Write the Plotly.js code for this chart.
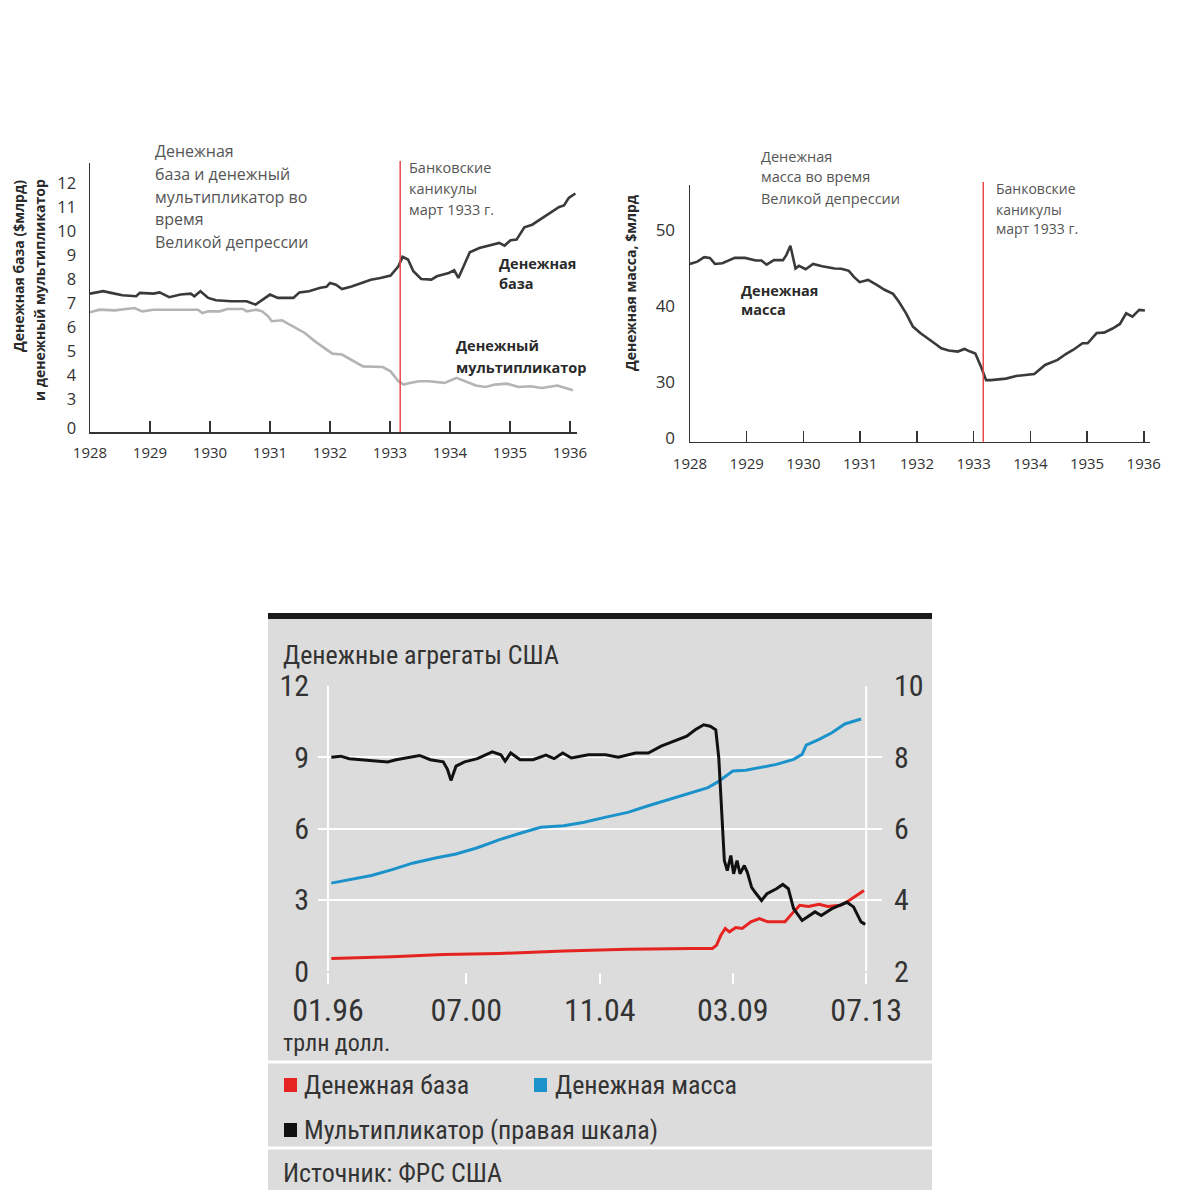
<!DOCTYPE html>
<html>
<head>
<meta charset="utf-8">
<script src="https://cdn.plot.ly/plotly-3.0.1.min.js"></script>
<style>
  html, body { margin: 0; padding: 0; background: #fff; }
  #chart { width: 1200px; height: 1200px; }
</style>
</head>
<body>
<div id="chart"></div>
<script>
// ---- chart 1: money base and money multiplier, 1928-1936
const baseYears = [1928.0,1928.22,1928.35,1928.54,1928.77,1928.83,1929.06,1929.16,1929.32,1929.51,1929.68,1929.74,1929.84,1929.97,
  1930.10,1930.35,1930.61,1930.76,1931.0,1931.13,1931.39,1931.49,1931.65,1931.84,1931.94,1932.0,1932.10,1932.20,1932.36,1932.55,
  1932.68,1932.84,1933.01,1933.14,1933.21,1933.30,1933.39,1933.52,1933.69,1933.78,1933.98,1934.07,1934.14,1934.24,1934.33,1934.49,
  1934.69,1934.82,1934.91,1935.01,1935.11,1935.24,1935.37,1935.50,1935.66,1935.82,1935.90,1935.98,1936.09];
const baseValues = [7.39,7.49,7.42,7.32,7.28,7.42,7.39,7.44,7.24,7.35,7.39,7.28,7.49,7.21,
  7.11,7.07,7.07,6.93,7.35,7.21,7.21,7.44,7.49,7.63,7.67,7.83,7.76,7.58,7.69,7.86,
  7.97,8.04,8.14,8.53,8.92,8.81,8.32,8.0,7.97,8.11,8.25,8.36,8.04,8.6,9.11,9.29,
  9.43,9.5,9.39,9.61,9.64,10.15,10.26,10.47,10.75,11.0,11.06,11.38,11.56];

const multYears = [1928.0,1928.16,1928.41,1928.74,1928.87,1929.06,1929.45,1929.80,1929.87,1929.97,
  1930.16,1930.29,1930.55,1930.61,1930.77,1930.87,1930.97,1931.03,1931.20,1931.39,1931.58,1931.75,1931.91,
  1932.04,1932.20,1932.36,1932.55,1932.88,1933.01,1933.14,1933.23,1933.33,1933.49,1933.65,1933.91,
  1934.11,1934.24,1934.43,1934.59,1934.75,1934.95,1935.14,1935.34,1935.53,1935.79,1935.92,1936.05];
const multValues = [6.61,6.72,6.69,6.79,6.65,6.72,6.72,6.72,6.58,6.65,
  6.65,6.75,6.75,6.65,6.72,6.65,6.44,6.24,6.28,6.03,5.75,5.40,5.13,
  4.89,4.85,4.61,4.36,4.33,4.15,3.74,3.60,3.67,3.74,3.74,3.67,
  3.88,3.74,3.56,3.50,3.60,3.64,3.50,3.53,3.46,3.56,3.46,3.36];

// ---- chart 2: money supply, 1928-1936
const massYears = [1928.0,1928.13,1928.25,1928.35,1928.44,1928.57,1928.79,1928.97,
  1929.16,1929.26,1929.35,1929.48,1929.64,1929.70,1929.77,1929.86,1929.92,
  1930.04,1930.17,1930.33,1930.55,1930.67,1930.80,1930.89,1930.99,
  1931.14,1931.30,1931.43,1931.58,1931.68,1931.81,1931.93,
  1932.06,1932.18,1932.31,1932.43,1932.56,1932.72,1932.84,1932.94,
  1933.03,1933.13,1933.22,1933.31,1933.57,1933.75,
  1934.07,1934.26,1934.48,1934.64,1934.76,1934.92,
  1935.01,1935.17,1935.30,1935.45,1935.58,1935.69,1935.80,1935.92,1936.02];
const massValues = [45.5,45.8,46.4,46.3,45.5,45.6,46.3,46.3,
  45.96,45.96,45.4,46.0,46.0,46.7,47.9,44.9,45.25,
  44.8,45.5,45.2,44.9,44.86,44.6,43.8,43.1,
  43.4,42.7,42.1,41.56,40.55,39.0,37.25,
  36.4,35.7,35.05,34.4,34.1,33.96,34.3,33.96,
  33.7,31.98,30.2,30.2,30.4,30.75,
  31.0,32.2,32.86,33.7,34.2,35.05,
  35.05,36.4,36.46,37.0,37.6,39.0,38.57,39.45,39.36];

const yearTicks = [1928,1929,1930,1931,1932,1933,1934,1935,1936];
const bankHoliday = 1933.17;

// ---- chart 3: US monetary aggregates 1996-2013
const baseDates = ['1996-02-10','1998-02-01','1999-10-01','2001-08-01','2003-09-01','2005-10-01','2007-11-01','2008-07-01',
  '2008-08-20','2008-10-10','2008-12-01','2009-01-20','2009-04-05','2009-06-20','2009-10-01','2010-01-10','2010-04-20',
  '2010-11-10','2011-02-20','2011-05-05','2011-08-15','2011-12-20','2012-04-01','2012-09-01','2012-12-10','2013-04-15','2013-06-05'];
const baseTrln = [0.53,0.60,0.70,0.74,0.84,0.92,0.95,0.95,
  1.09,1.51,1.79,1.65,1.83,1.79,2.07,2.21,2.07,
  2.07,2.49,2.77,2.72,2.81,2.72,2.77,2.97,3.28,3.39];

const massDates = ['1996-02-10','1996-09-01','1997-06-01','1998-02-01','1998-10-01','1999-07-01','2000-03-01','2000-11-01',
  '2001-08-01','2002-04-01','2002-12-01','2003-09-01','2004-05-01','2005-01-01','2005-10-01','2006-06-01','2007-02-01',
  '2007-11-01','2008-05-10','2008-08-20','2008-12-01','2009-03-01','2009-08-01','2010-01-01','2010-08-01','2011-02-20',
  '2011-06-01','2011-07-20','2011-12-20','2012-05-20','2012-10-20','2013-05-01'];
const massTrln = [3.70,3.84,4.02,4.27,4.54,4.76,4.93,5.18,
  5.53,5.80,6.05,6.12,6.26,6.47,6.68,6.96,7.23,
  7.51,7.72,7.93,8.21,8.42,8.45,8.56,8.70,8.91,
  9.12,9.51,9.75,10.03,10.40,10.61];

const multDates = ['1996-02-10','1996-06-01','1996-09-10','1997-05-20','1997-12-10','1998-03-20','1998-10-10','1998-12-25','1999-05-01','1999-10-01',
  '1999-11-20','2000-01-01','2000-03-01','2000-06-10','2000-11-10','2001-05-05','2001-08-15','2001-10-05','2001-12-10','2002-04-01',
  '2002-09-01','2003-02-01','2003-05-10','2003-08-20','2003-12-01','2004-06-20','2005-01-10','2005-06-10','2006-01-01','2006-06-01',
  '2006-11-01','2007-04-01','2007-09-01','2007-12-10','2008-03-20','2008-06-05','2008-08-10','2008-09-15','2008-10-20','2008-11-20',
  '2008-12-25','2009-02-05','2009-03-10','2009-04-20','2009-05-25','2009-07-15','2009-08-20','2009-10-10','2009-11-20','2010-02-05',
  '2010-04-10','2010-08-01','2010-10-15','2010-12-20','2011-02-20','2011-06-01','2011-11-01','2012-01-15','2012-05-20','2012-11-15',
  '2013-02-01','2013-05-01','2013-06-20'];
const multRatio = [8.0,8.03,7.96,7.91,7.87,7.93,8.01,8.05,7.93,7.87,
  7.66,7.35,7.75,7.87,7.96,8.15,8.07,7.89,8.12,7.93,
  7.93,8.06,7.96,8.12,7.98,8.07,8.07,8.0,8.12,8.12,
  8.31,8.45,8.59,8.77,8.91,8.87,8.77,7.98,6.4,5.1,
  4.82,5.24,4.73,5.1,4.73,4.96,4.77,4.35,4.21,3.98,
  4.17,4.31,4.43,4.31,3.75,3.42,3.66,3.56,3.75,3.93,
  3.8,3.38,3.31];

const usTicks = ['1996-01-01','2000-07-01','2004-11-01','2009-03-01','2013-07-01'];
const usTickText = ['01.96','07.00','11.04','03.09','07.13'];

const TOP_FONT = 'Open Sans, Noto Sans, sans-serif';
const NARROW = 'Roboto Condensed, Liberation Sans Narrow, sans-serif';

// pixel -> paper helpers
const px = p => p/1200;
const py = p => 1 - p/1200;

function label(text, x, y, opts) {
    opts = opts || {};
    return {
        text: text, xref: 'paper', yref: 'paper', x: px(x), y: py(y),
        xanchor: opts.xanchor || 'left', yanchor: 'middle', showarrow: false,
        textangle: opts.angle || 0,
        font: { family: opts.family || TOP_FONT, size: opts.size || 15, color: opts.color || '#555',
                weight: opts.bold ? 700 : 400 }
    };
}

let traces = [
    { x: baseYears, y: baseValues, mode: 'lines', xaxis: 'x', yaxis: 'y',
      line: { color: '#3a3a3a', width: 2.6 } },
    { x: multYears, y: multValues, mode: 'lines', xaxis: 'x', yaxis: 'y',
      line: { color: '#b4b4b4', width: 2.6 } },
    { x: massYears, y: massValues, mode: 'lines', xaxis: 'x2', yaxis: 'y2',
      line: { color: '#3a3a3a', width: 2.6 } },
    { x: massDates, y: massTrln, mode: 'lines', xaxis: 'x3', yaxis: 'y3',
      line: { color: '#1b92c9', width: 3 } },
    { x: baseDates, y: baseTrln, mode: 'lines', xaxis: 'x3', yaxis: 'y3',
      line: { color: '#e52421', width: 3 } },
    { x: multDates, y: multRatio, mode: 'lines', xaxis: 'x3', yaxis: 'y4',
      line: { color: '#111111', width: 3 } }
];

const topAxis = {
    showline: true, linecolor: '#333', linewidth: 1.5, showgrid: false, zeroline: false
};

let layout = {
    width: 1200, height: 1200,
    margin: { l: 0, r: 0, t: 0, b: 0, pad: 0 },
    paper_bgcolor: '#ffffff',
    plot_bgcolor: 'rgba(0,0,0,0)',
    showlegend: false,
    font: { family: TOP_FONT, color: '#333' },

    xaxis: Object.assign({}, topAxis, {
        domain: [px(90), px(577)], range: [1928, 1936.117], anchor: 'y',
        tickvals: yearTicks, ticktext: yearTicks.map(String),
        ticks: 'inside', ticklen: 11, tickwidth: 1.5, tickcolor: '#333',
        tickfont: { size: 15, color: '#333' }, ticklabelstandoff: 6
    }),
    yaxis: Object.assign({}, topAxis, {
        domain: [py(432), py(163)], range: [1.625, 12.83], anchor: 'x',
        tickvals: [1.79,3,4,5,6,7,8,9,10,11,12],
        ticktext: ['0','3','4','5','6','7','8','9','10','11','12'],
        ticks: '', tickfont: { size: 16.5, color: '#333' }, ticklabelstandoff: 9
    }),
    xaxis2: Object.assign({}, topAxis, {
        domain: [px(690), px(1150)], range: [1928, 1936.11], anchor: 'y2',
        tickvals: yearTicks, ticktext: yearTicks.map(String),
        ticks: 'inside', ticklen: 11, tickwidth: 1.5, tickcolor: '#333',
        tickfont: { size: 15, color: '#333' }, ticklabelstandoff: 8
    }),
    yaxis2: Object.assign({}, topAxis, {
        domain: [py(441.7), py(185)], range: [22.09, 55.9], anchor: 'x2',
        tickvals: [22.53, 30, 40, 50], ticktext: ['0','30','40','50'],
        ticks: '', tickfont: { size: 17, color: '#333' }, ticklabelstandoff: 10
    }),
    xaxis3: {
        type: 'date', domain: [px(318), px(882)], range: ['1995-09-05', '2014-01-05'], anchor: 'y3',
        tickvals: usTicks, ticktext: usTickText,
        ticks: 'outside', ticklen: 11, tickwidth: 2, tickcolor: '#ffffff',
        showline: false, showgrid: false, zeroline: false,
        tickfont: { family: NARROW, size: 32, color: '#333' }, ticklabelstandoff: -1
    },
    yaxis3: {
        domain: [py(971.5), py(685.5)], range: [-0.02, 12.02], anchor: 'x3',
        tickvals: [0,3,6,9,12], ticks: '', showline: false, zeroline: false,
        showgrid: true, gridcolor: '#ffffff', gridwidth: 2,
        tickfont: { family: NARROW, size: 30, color: '#333' }, ticklabelstandoff: 8
    },
    yaxis4: {
        overlaying: 'y3', side: 'right', anchor: 'x3',
        range: [2 - 0.02*2/3, 10 + 0.02*2/3],
        tickvals: [2,4,6,8,10], ticks: '', showline: false, zeroline: false, showgrid: false,
        tickfont: { family: NARROW, size: 30, color: '#333' }, ticklabelstandoff: 11
    },

    shapes: [
        // grey panel and black rule of the bottom chart
        { type: 'rect', xref: 'paper', yref: 'paper', layer: 'below',
          x0: px(268), x1: px(932), y0: py(1190), y1: py(619), fillcolor: '#dcdcdc', line: { width: 0 } },
        { type: 'rect', xref: 'paper', yref: 'paper', layer: 'below',
          x0: px(268), x1: px(932), y0: py(619), y1: py(613), fillcolor: '#1a1a1a', line: { width: 0 } },
        { type: 'line', xref: 'paper', yref: 'paper', layer: 'below',
          x0: px(268), x1: px(932), y0: py(1062), y1: py(1062), line: { color: '#ffffff', width: 3 } },
        { type: 'line', xref: 'paper', yref: 'paper', layer: 'below',
          x0: px(268), x1: px(932), y0: py(1148), y1: py(1148), line: { color: '#ffffff', width: 3 } },
        // frame lines at the first and last date
        { type: 'line', xref: 'x3', yref: 'y3', layer: 'below',
          x0: usTicks[0], x1: usTicks[0], y0: 0, y1: 12, line: { color: '#ffffff', width: 2 } },
        { type: 'line', xref: 'x3', yref: 'y3', layer: 'below',
          x0: usTicks[4], x1: usTicks[4], y0: 0, y1: 12, line: { color: '#ffffff', width: 2 } },
        // bank holiday, March 1933
        { type: 'line', xref: 'x', yref: 'paper', x0: bankHoliday, x1: bankHoliday,
          y0: py(432), y1: py(161), line: { color: '#e8474b', width: 1.5 } },
        { type: 'line', xref: 'x2', yref: 'paper', x0: bankHoliday, x1: bankHoliday,
          y0: py(441.7), y1: py(182), line: { color: '#e8474b', width: 1.5 } },
        // legend swatches
        { type: 'rect', xref: 'paper', yref: 'paper', x0: px(284), x1: px(297), y0: py(1092), y1: py(1078),
          fillcolor: '#e52421', line: { width: 0 } },
        { type: 'rect', xref: 'paper', yref: 'paper', x0: px(534), x1: px(547), y0: py(1092), y1: py(1078),
          fillcolor: '#1b92c9', line: { width: 0 } },
        { type: 'rect', xref: 'paper', yref: 'paper', x0: px(284), x1: px(297), y0: py(1137), y1: py(1123),
          fillcolor: '#111111', line: { width: 0 } }
    ],

    annotations: [
        // chart 1
        label('Денежная', 153, 151, { size: 16 }),
        label('база и денежный', 153, 174, { size: 16 }),
        label('мультипликатор во', 153, 197, { size: 16 }),
        label('время', 153, 219, { size: 16 }),
        label('Великой депрессии', 153, 242, { size: 16 }),
        label('Банковские', 407, 167, { size: 14.5 }),
        label('каникулы', 407, 188, { size: 14.5 }),
        label('март 1933 г.', 407, 209, { size: 14.5 }),
        label('Денежная', 497, 263, { size: 14.5, bold: true, color: '#2a2a2a' }),
        label('база', 497, 283, { size: 14.5, bold: true, color: '#2a2a2a' }),
        label('Денежный', 454, 345, { size: 14.5, bold: true, color: '#2a2a2a' }),
        label('мультипликатор', 454, 367, { size: 14.5, bold: true, color: '#2a2a2a' }),
        Object.assign(label('Денежная база ($млрд)', 18, 178, { size: 14, bold: true, color: '#2a2a2a', angle: -90, xanchor: 'center' }), { yanchor: 'top' }),
        Object.assign(label('и денежный мультипликатор', 40, 177, { size: 14, bold: true, color: '#2a2a2a', angle: -90, xanchor: 'center' }), { yanchor: 'top' }),
        // chart 2
        label('Денежная', 759, 156, { size: 14.5 }),
        label('масса во время', 759, 177, { size: 14.5 }),
        label('Великой депрессии', 759, 198, { size: 14.5 }),
        label('Банковские', 994, 189, { size: 14 }),
        label('каникулы', 994, 209, { size: 14 }),
        label('март 1933 г.', 994, 229, { size: 14 }),
        label('Денежная', 739, 290, { size: 14.5, bold: true, color: '#2a2a2a' }),
        label('масса', 739, 310, { size: 14.5, bold: true, color: '#2a2a2a' }),
        label('Денежная масса, $млрд', 630, 283, { size: 14, bold: true, color: '#2a2a2a', angle: -90, xanchor: 'center' }),
        // chart 3
        label('Денежные агрегаты США', 281, 655, { family: NARROW, size: 26, color: '#333' }),
        label('трлн долл.', 281, 1043, { family: NARROW, size: 24, color: '#333' }),
        label('Денежная база', 302, 1085, { family: NARROW, size: 26, color: '#333' }),
        label('Денежная масса', 553, 1085, { family: NARROW, size: 26, color: '#333' }),
        label('Мультипликатор (правая шкала)', 302, 1130, { family: NARROW, size: 26, color: '#333' }),
        label('Источник: ФРС США', 281, 1173, { family: NARROW, size: 26, color: '#333' })
    ]
};

Plotly.newPlot(document.querySelector('#chart'), traces, layout, { staticPlot: true });
</script>
</body>
</html>
